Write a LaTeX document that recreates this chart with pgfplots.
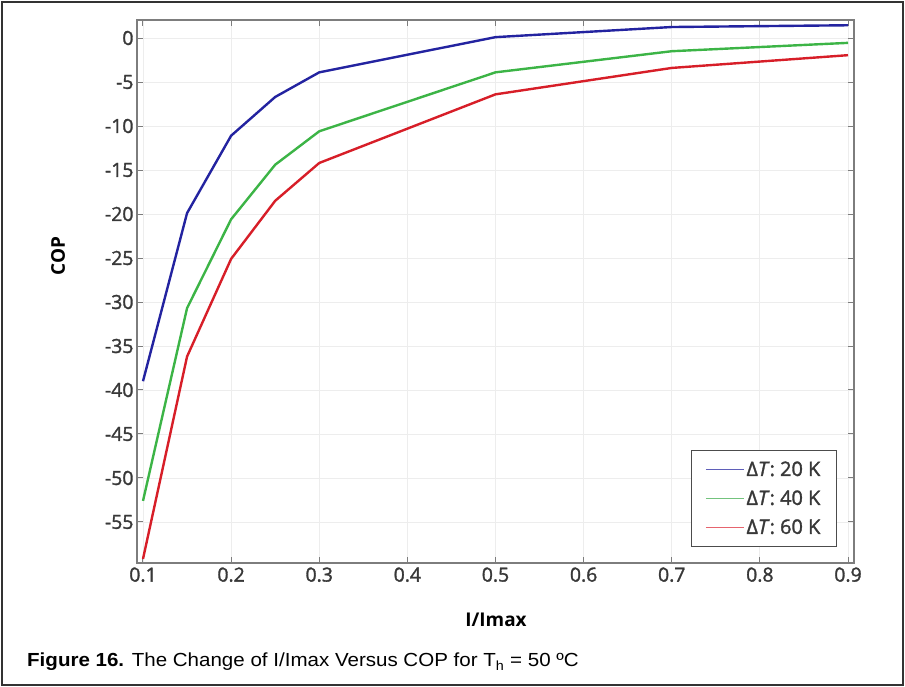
\documentclass[border=0pt]{standalone}
\usepackage{pgfplots}
\pgfplotsset{compat=1.18}
\usepackage{fontspec}
\setmainfont{Open Sans}
\newfontfamily\tickfont[FakeBold=1.6]{Open Sans}
\newfontfamily\capfont[FakeStretch=1.085]{Liberation Sans}
\definecolor{cblue}{RGB}{35,35,160}
\definecolor{cgreen}{RGB}{60,180,70}
\definecolor{cred}{RGB}{215,30,40}
\definecolor{lblue}{RGB}{95,95,185}
\definecolor{lgreen}{RGB}{115,195,125}
\definecolor{lred}{RGB}{230,100,110}
\definecolor{axgray}{RGB}{125,125,125}
\begin{document}
\begin{tikzpicture}[x=1bp,y=1bp]
\useasboundingbox (0,0) rectangle (905,687);
\draw[line width=1.6bp, black!80] (2,2) rectangle (903,685);
\begin{axis}[
  at={(137bp,124bp)}, anchor=south west,
  scale only axis, width=717bp, height=543bp,
  xmin=0.0932, xmax=0.9068, ymin=-59.66, ymax=2.05,
  xtick={0.1,0.2,...,0.9},
  xticklabels={0.1,0.2,0.3,0.4,0.5,0.6,0.7,0.8,0.9},
  ytick={0,-5,-10,-15,-20,-25,-30,-35,-40,-45,-50,-55},
  yticklabels={0,-5,-10,-15,-20,-25,-30,-35,-40,-45,-50,-55},
  tick align=inside, tick pos=both,
  major tick length=6bp,
  axis line style={axgray, line width=1.2bp},
  tick style={axgray, line width=1bp},
  grid=major, grid style={black!7, line width=0.8bp},
  ticklabel style={font=\tickfont\fontsize{19.5}{21}\selectfont, text=black!78},
  yticklabel style={xshift=0bp},
  xticklabel style={yshift=-1bp},
  legend style={at={(0.976,0.208)}, anchor=north east,
    font=\tickfont\fontsize{20}{22}\selectfont, text=black!78, draw=black!70, line width=1bp,
    inner xsep=14bp, inner ysep=9bp, row sep=9bp},
  legend cell align=left,
  legend image code/.code={\draw[#1, line width=1.3bp] (0bp,0bp) -- (38bp,0bp);},
]
\addplot[cblue, line width=2.4bp, forget plot] coordinates {
 (0.1,-39.0) (0.15,-19.9) (0.2,-11.1) (0.25,-6.7) (0.3,-3.9) (0.5,0.1) (0.7,1.25) (0.9,1.45)};
\addplot[cgreen, line width=2.4bp, forget plot] coordinates {
 (0.1,-52.6) (0.15,-30.7) (0.2,-20.6) (0.25,-14.4) (0.3,-10.6) (0.5,-3.9) (0.7,-1.5) (0.9,-0.55)};
\addplot[cred, line width=2.4bp, forget plot] coordinates {
 (0.1,-59.2) (0.15,-36.2) (0.2,-25.1) (0.25,-18.5) (0.3,-14.2) (0.5,-6.4) (0.7,-3.4) (0.9,-1.95)};
\addlegendimage{lblue}
\addlegendentry{Δ\textit{T}: 20 K}
\addlegendimage{lgreen}
\addlegendentry{Δ\textit{T}: 40 K}
\addlegendimage{lred}
\addlegendentry{Δ\textit{T}: 60 K}
\end{axis}
\node[rotate=90, font=\fontsize{19}{20}\selectfont\bfseries] at (58,431) {COP};
\node[font=\fontsize{19}{20}\selectfont\bfseries, anchor=base] at (496,60) {I/Imax};
\node[anchor=base west, inner sep=0pt, font=\capfont\fontsize{19}{22}\selectfont] at (27,20)
  {\textbf{Figure 16.} The Change of I/Imax Versus COP for T\textsubscript{h} = 50 ºC};
\end{tikzpicture}
\end{document}
